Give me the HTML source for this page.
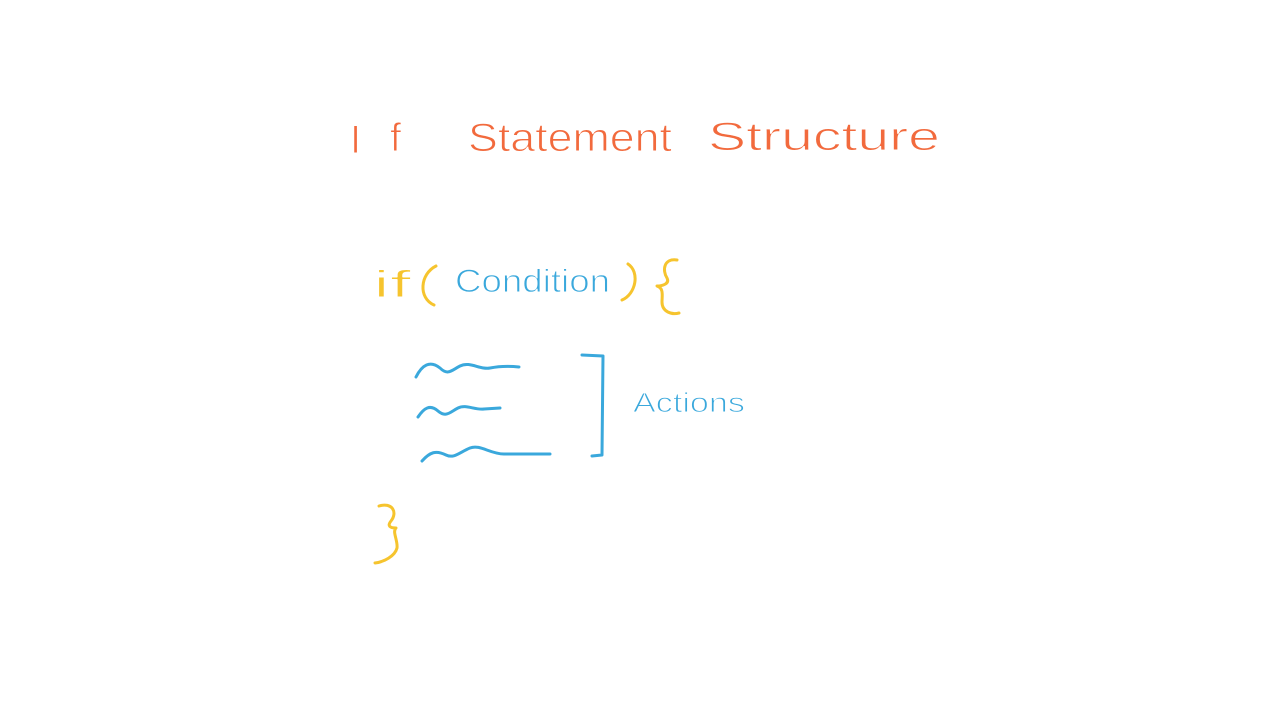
<!DOCTYPE html>
<html><head><meta charset="utf-8"><style>
html,body{margin:0;padding:0;background:#fff;width:1280px;height:719px;overflow:hidden}
svg{display:block}
text{font-family:"Liberation Sans",sans-serif;font-weight:normal}
.thin{stroke:#fff;stroke-width:1}
</style></head><body>
<svg width="1280" height="719" viewBox="0 0 1280 719" xmlns="http://www.w3.org/2000/svg">
<rect width="1280" height="719" fill="#fff"/>
<g fill="#f26a3d" font-size="40" class="thin">
<text x="350" y="153">I</text>
<text x="390" y="151">f</text>
<text x="468" y="151" textLength="204" lengthAdjust="spacingAndGlyphs">Statement</text>
<text x="708" y="150" textLength="232" lengthAdjust="spacingAndGlyphs">Structure</text>
</g>
<g fill="none" stroke-linecap="round" stroke-linejoin="round" stroke-width="3">
<text x="373" y="297" font-size="38" fill="#f6c42e" class="thin" textLength="38" lengthAdjust="spacingAndGlyphs">if</text>
<path d="M436 266 C420 274 418 298 434 305" stroke="#f6c42e"/>
<path d="M622 300 C636 294 640 272 628 264" stroke="#f6c42e"/>
<path d="M677 260 C664 258 662 270 667 278 C670 284 662 286 657 286 C664 288 662 296 662 302 C662 312 672 315 679 313" stroke="#f6c42e"/>
<path d="M379 506 C392 502 398 512 391 521 C387 526 390 528 396 528 C392 532 398 540 397 548 C395 556 384 562 375 563" stroke="#f6c42e"/>
<path d="M416 377 C422 365 430 360 440 368 C448 376 452 370 460 366 C470 361 480 370 490 368 C500 366 510 366 519 367" stroke="#3aa8dc"/>
<path d="M418 417 C424 408 430 404 438 411 C446 418 450 412 458 408 C466 404 474 410 484 409 L500 408" stroke="#3aa8dc"/>
<path d="M422 461 C430 452 436 450 446 455 C454 459 460 452 470 448 C480 444 490 454 504 454 L550 454" stroke="#3aa8dc"/>
<path d="M582 355 L603 356 L602 455 L592 456" stroke="#3aa8dc"/>
</g>
<text x="455" y="292" font-size="32" fill="#3aa8dc" class="thin" textLength="155" lengthAdjust="spacingAndGlyphs">Condition</text>
<text x="633" y="412" font-size="28" fill="#3aa8dc" class="thin" textLength="112" lengthAdjust="spacingAndGlyphs">Actions</text>
</svg>
</body></html>
